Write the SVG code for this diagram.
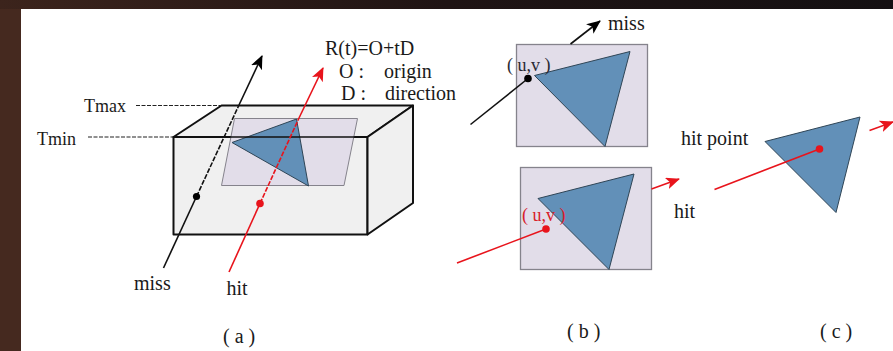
<svg xmlns="http://www.w3.org/2000/svg" width="893" height="351" viewBox="0 0 893 351">
<defs>
<linearGradient id="top" x1="0" x2="1" y1="0" y2="0"><stop offset="0" stop-color="#3c241c"/><stop offset="0.5" stop-color="#1f1414"/><stop offset="1" stop-color="#141012"/></linearGradient>
<marker id="ak" markerUnits="userSpaceOnUse" markerWidth="16" markerHeight="14" refX="13" refY="6" orient="auto"><path d="M0 0L14 6L0 12L3.500 6Z" fill="#000"/></marker>
<marker id="ar" markerUnits="userSpaceOnUse" markerWidth="16" markerHeight="14" refX="13" refY="6" orient="auto"><path d="M0 0L14 6L0 12L3.500 6Z" fill="#e8141c"/></marker>
</defs>
<style>
text{font-family:"Liberation Serif","Times New Roman",serif;font-size:20px;fill:#1a1a1a}
.plane{fill:#e2dde9;stroke:#85838c;stroke-width:1.3}
.tri{fill:#6290b8;stroke:#2f4556;stroke-width:1}
.box{stroke:#111;stroke-width:2;stroke-linejoin:round}
.k{fill:none;stroke:#111;stroke-width:1.6}
.r{fill:none;stroke:#e8141c;stroke-width:1.6}
.d{stroke-dasharray:5 1.5}
.t{fill:none;stroke:#222;stroke-width:1.2;stroke-dasharray:4 1.5}
.s{font-size:18px}
</style>
<rect width="893" height="351" fill="#fff"/>
<rect width="21" height="351" fill="#45291f"/>
<rect width="893" height="9" fill="url(#top)"/>
<g id="box-a">
<path class="box" d="M173.500 137H367.500V234.500H173.500Z" fill="#f0f0f0"/>
<path class="box" d="M173.500 137L221.500 105.500H413L367.500 137Z" fill="#f0f0f0"/>
<path class="box" d="M367.500 137L413 105.500V203L367.500 234.500Z" fill="#f0f0f0"/>
<path d="M234.500 118.500H357.500L344 185.500H221.500Z" fill="#e2dde9" stroke="#85838c" stroke-width="1"/>
<path class="tri" d="M232 142.500L296.500 119L308.500 186Z"/>
<path d="M173.500 137H367.500" stroke="#111" stroke-width="1.600"/>
</g>
<g id="plane-b1">
<rect class="plane" x="516.500" y="44.500" width="131" height="102"/>
<path class="tri" d="M534.500 75.500L630 51.500L605 146.500Z"/>
</g>
<g id="plane-b2">
<rect class="plane" x="520.500" y="167.500" width="131" height="102"/>
<path class="tri" d="M538 198.500L634 174L609 269.500Z"/>
</g>
<g id="triangle-c">
<path class="tri" d="M765 141.500L860 117L836 212.500Z"/>
</g>
<g id="connectors">
<path class="t" d="M136 105.500H221"/>
<path class="t" d="M88 137H173"/>
<path class="k" d="M163.500 268L196.500 196.500"/>
<path class="k d" d="M196.500 196.500L239 105"/>
<path class="k" d="M239 105L262 56" marker-end="url(#ak)"/>
<path class="r" d="M229 272L260 203.500"/>
<path class="r d" d="M260 203.500L299 118"/>
<path class="r" d="M299 118L323 68" marker-end="url(#ar)"/>
<path class="k" d="M470.500 124.500L528 78.500"/>
<path class="k" d="M570.500 44L600 21" marker-end="url(#ak)"/>
<path class="r" d="M457 263L546 229"/>
<path class="r" d="M651.500 189L679 179" marker-end="url(#ar)"/>
<path class="r" d="M714.500 189.500L819.500 149"/>
<path class="r" d="M869.500 130.500L893 122" marker-end="url(#ar)"/>
</g>
<g id="dots">
<circle cx="196.500" cy="196.500" r="3.600" fill="#000"/>
<circle cx="260" cy="203.500" r="3.800" fill="#e8141c"/>
<circle cx="528" cy="78.500" r="3.800" fill="#000"/>
<circle cx="546" cy="229" r="3.800" fill="#e8141c"/>
<circle cx="819.500" cy="149" r="3.800" fill="#e8141c"/>
</g>
<g id="labels">
<text x="325" y="55">R(t)=O+tD</text>
<text x="339" y="78">O :</text><text x="384" y="78">origin</text>
<text x="341" y="100">D :</text><text x="385" y="100">direction</text>
<text class="s" x="84" y="112">Tmax</text>
<text class="s" x="37" y="145">Tmin</text>
<text x="134" y="290">miss</text>
<text x="226.500" y="295">hit</text>
<text x="223" y="343">( a )</text>
<text x="608" y="30">miss</text>
<text class="s" x="507" y="71" style="fill:#2a2a33">( u,v )</text>
<text class="s" x="522" y="221" style="fill:#d8202a">( u,v )</text>
<text x="674" y="218">hit</text>
<text x="681" y="145">hit point</text>
<text x="567" y="338">( b )</text>
<text x="820" y="338">( c )</text>
</g>
</svg>
